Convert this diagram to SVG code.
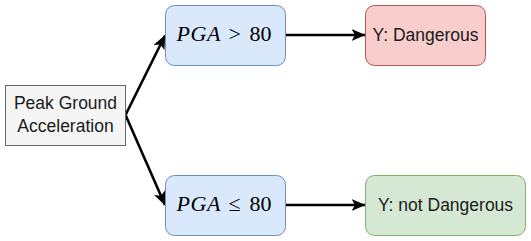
<svg xmlns="http://www.w3.org/2000/svg" width="531" height="241" viewBox="0 0 531 241">
  <defs>
    <marker id="arrow" viewBox="0 0 14 12" refX="13.5" refY="6" markerWidth="14" markerHeight="12" markerUnits="userSpaceOnUse" orient="auto">
      <path d="M0,0 L14,6 L0,12 L3.5,6 Z" fill="#000"/>
    </marker>
  </defs>
  <style>
    .label { font-family: "Liberation Sans", Arial, sans-serif; font-size: 17.5px; fill: #1a1a1a; text-anchor: middle; }
    .math { font-family: "Liberation Serif", "Times New Roman", serif; font-size: 22px; fill: #000; }
    .math .v { font-style: italic; }
    .edge { fill: none; stroke: #000; stroke-width: 2.6; marker-end: url(#arrow); }
  </style>
  <rect width="531" height="241" fill="#fff"/>

  <g id="edges">
    <path class="edge" d="M125.5,115 L165,35.5"/>
    <path class="edge" d="M125.5,115 L165,205"/>
    <path class="edge" d="M285.5,35 L365,35"/>
    <path class="edge" d="M285.5,205 L365,205"/>
  </g>

  <g id="pga">
    <rect x="5.5" y="85.5" width="120" height="60" fill="#f5f5f5" stroke="#666666"/>
    <text class="label" x="65.5" y="109">Peak Ground</text>
    <text class="label" x="65.5" y="131.5">Acceleration</text>
  </g>

  <g id="high">
    <rect x="165.5" y="5.5" width="120" height="60" rx="9" fill="#dae8fc" stroke="#6c8ebf"/>
    <text class="math" y="41"><tspan class="v" x="176.5 190.5 207">PGA</tspan><tspan x="228.5">&gt;</tspan><tspan x="249.5">80</tspan></text>
  </g>

  <g id="low">
    <rect x="165.5" y="175.5" width="120" height="60" rx="9" fill="#dae8fc" stroke="#6c8ebf"/>
    <text class="math" y="211"><tspan class="v" x="176.5 190.5 207">PGA</tspan><tspan x="228.5">≤</tspan><tspan x="249.5">80</tspan></text>
  </g>

  <g id="dangerous">
    <rect x="365.5" y="5.5" width="120" height="60" rx="9" fill="#f8cecc" stroke="#b85450"/>
    <text class="label" x="425.5" y="41">Y: Dangerous</text>
  </g>

  <g id="safe">
    <rect x="365.5" y="175.5" width="160" height="60" rx="9" fill="#d5e8d4" stroke="#82b366"/>
    <text class="label" x="445.5" y="211">Y: not Dangerous</text>
  </g>
</svg>
